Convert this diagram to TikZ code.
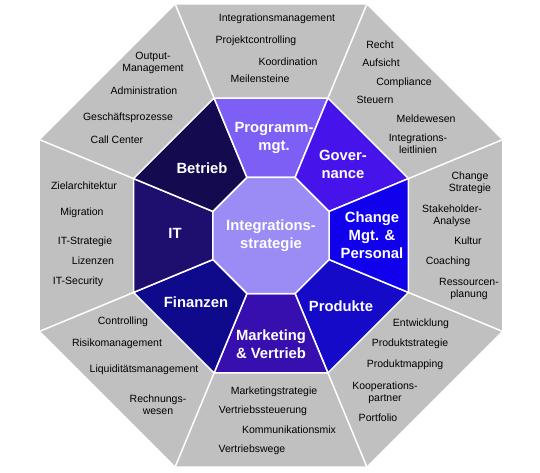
\documentclass[tikz,border=0pt]{standalone}
\usepackage{fontspec}
\setmainfont{Liberation Sans}
\definecolor{gr}{RGB}{192,192,192}
\definecolor{cCenter}{RGB}{155,140,245}
\definecolor{cProg}{RGB}{125,95,245}
\definecolor{cGov}{RGB}{70,20,235}
\definecolor{cChange}{RGB}{16,0,235}
\definecolor{cProd}{RGB}{20,10,200}
\definecolor{cMark}{RGB}{55,15,175}
\definecolor{cFin}{RGB}{15,10,140}
\definecolor{cIT}{RGB}{30,15,110}
\definecolor{cBetr}{RGB}{20,10,80}
\begin{document}
\begin{tikzpicture}[x=1pt,y=-1pt,
  item/.style={font=\fontsize{10.5}{12.5}\selectfont, align=center, anchor=base, inner sep=0pt, text=black},
  lab/.style={font=\fontsize{14.8}{18}\selectfont\bfseries, align=center, anchor=base, inner sep=0pt, text=white},
  seg/.style={draw=white, line width=1.5pt, line join=round}]
\useasboundingbox (0,0) rectangle (540,472);
\foreach \i in {0,...,8} {
  \path[shift={(271,235.5)}] ({22.5+45*\i}:249.8) coordinate (O\i)
        ({22.5+45*\i}:148.8) coordinate (R\i)
        ({22.5+45*\i}:62.8) coordinate (C\i);
}
% outer gray octagon
\fill[gr] (O0)--(O1)--(O2)--(O3)--(O4)--(O5)--(O6)--(O7)--cycle;
\foreach \i in {0,...,7} { \draw[white, line width=1.5pt] (R\i) -- (O\i); }
% ring segments
\foreach \a/\b/\c in {0/1/cProd,1/2/cMark,2/3/cFin,3/4/cIT,4/5/cBetr,5/6/cProg,6/7/cGov,7/8/cChange} {
  \filldraw[seg, fill=\c] (C\a)--(R\a)--(R\b)--(C\b)--cycle;
}
% center
\filldraw[seg, fill=cCenter] (C0)--(C1)--(C2)--(C3)--(C4)--(C5)--(C6)--(C7)--cycle;

% ring labels (multi-line: base = last line)
\node[lab] (lprog) at (274,150.2) {Programm-\\mgt.};
\node[lab] (lgov) at (343,178.2) {Gover-\\nance};
\node[lab] (lchange) at (372,258.2) {Change\\Mgt. \&\\Personal};
\node[lab] (lprod) at (341,311.2) {Produkte};
\node[lab] (lmark) at (271,358.2) {Marketing\\\& Vertrieb};
\node[lab] (lfin) at (196,307.2) {Finanzen};
\node[lab] (lit) at (175,238.2) {IT};
\node[lab] (lbetr) at (202,173.2) {Betrieb};
\node[lab] (lcenter) at (271,248.2) {Integrations-\\strategie};

% top gray
\node[item] (t1) at (277,21.5) {Integrationsmanagement};
\node[item] (t2) at (256,43.5) {Projektcontrolling};
\node[item] (t3) at (288,65.5) {Koordination};
\node[item] (t4) at (260,82.5) {Meilensteine};
% upper right
\node[item] (g1) at (380,48.5) {Recht};
\node[item] (g2) at (381,66.5) {Aufsicht};
\node[item] (g3) at (404,85.5) {Compliance};
\node[item] (g4) at (375,103.5) {Steuern};
\node[item] (g5) at (426,122.5) {Meldewesen};
\node[item] (g6) at (418,153.5) {Integrations-\\leitlinien};
% right
\node[item] (c1) at (470,191.5) {Change\\Strategie};
\node[item] (c2) at (452,224.5) {Stakeholder-\\Analyse};
\node[item] (c3) at (468,244.5) {Kultur};
\node[item] (c4) at (448,264.5) {Coaching};
\node[item] (c5) at (469,297.5) {Ressourcen-\\planung};
% lower right
\node[item] (p1) at (421,326.5) {Entwicklung};
\node[item] (p2) at (410,346.5) {Produktstrategie};
\node[item] (p3) at (405,367.5) {Produktmapping};
\node[item] (p4) at (385,401.5) {Kooperations-\\partner};
\node[item] (p5) at (378,421.5) {Portfolio};
% bottom
\node[item] (m1) at (274,394.5) {Marketingstrategie};
\node[item] (m2) at (263,413.5) {Vertriebssteuerung};
\node[item] (m3) at (289,433.5) {Kommunikationsmix};
\node[item] (m4) at (252,452.5) {Vertriebswege};
% lower left
\node[item] (f1) at (123,324.5) {Controlling};
\node[item] (f2) at (117,346.5) {Risikomanagement};
\node[item] (f3) at (144,372.5) {Liquiditätsmanagement};
\node[item] (f4) at (158,414.5) {Rechnungs-\\wesen};
% left
\node[item] (i1) at (84,189.5) {Zielarchitektur};
\node[item] (i2) at (82,215.5) {Migration};
\node[item] (i3) at (85,244.5) {IT-Strategie};
\node[item] (i4) at (93,264.5) {Lizenzen};
\node[item] (i5) at (78,284.5) {IT-Security};
% upper left
\node[item] (b1) at (153,71.5) {Output-\\Management};
\node[item] (b2) at (144,94.5) {Administration};
\node[item] (b3) at (128,120.5) {Geschäftsprozesse};
\node[item] (b4) at (117,143.5) {Call Center};
\end{tikzpicture}
\end{document}
